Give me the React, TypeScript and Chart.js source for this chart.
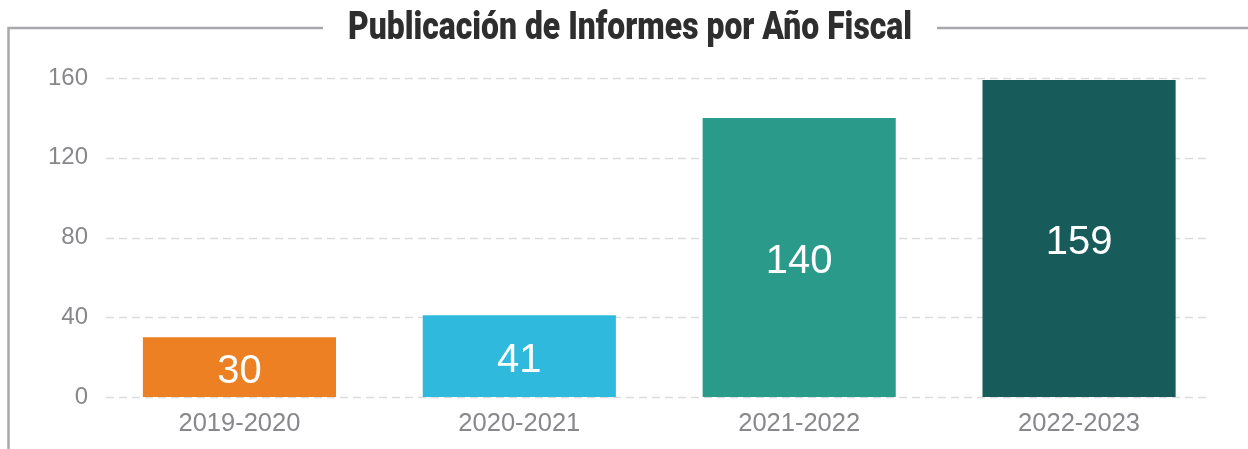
import React, { useEffect, useRef } from "react";
import { Chart, registerables } from "chart.js";

Chart.register(...registerables);

const TITLE = "Publicación de Informes por Año Fiscal";
const categories = ["2019-2020", "2020-2021", "2021-2022", "2022-2023"];
const reports = [30, 41, 140, 159];
const barColors = ["#EC8023", "#2FBADD", "#2A9A8A", "#175B5B"];
const yTicks = [0, 40, 80, 120, 160];

const W = 1248;
const H = 449;

const framePlugin = {
  id: "frameTitle",
  beforeDatasetsDraw(chart: any) {
    const { ctx, chartArea, scales } = chart;
    const y = scales.y;
    ctx.save();
    ctx.strokeStyle = "#dcdcdc";
    ctx.lineWidth = 1.5;
    ctx.setLineDash([8, 5]);
    for (const v of yTicks) {
      const py = Math.round(y.getPixelForValue(v)) + 0.5;
      ctx.beginPath();
      ctx.moveTo(chartArea.left + 6.5, py);
      ctx.lineTo(chartArea.right - 12.5, py);
      ctx.stroke();
    }
    ctx.restore();
  },
  afterDatasetsDraw(chart: any) {
    const { ctx } = chart;
    const meta = chart.getDatasetMeta(0);
    ctx.save();
    ctx.fillStyle = "#ffffff";
    ctx.font = "40px 'Liberation Sans', Arial, sans-serif";
    ctx.textAlign = "center";
    ctx.textBaseline = "middle";
    meta.data.forEach((bar: any, i: number) => {
      const cy = (bar.y + bar.base) / 2 + 4.5;
      ctx.fillText(String(reports[i]), bar.x, cy);
    });
    ctx.restore();
  },
  afterDraw(chart: any) {
    const { ctx } = chart;
    ctx.save();
    // title
    ctx.font = "900 38px Roboto, 'Liberation Sans', sans-serif";
    ctx.fillStyle = "#2e2e2e";
    ctx.textBaseline = "middle";
    ctx.textAlign = "center";
    const m = ctx.measureText(TITLE);
    const target = 564;
    const sx = target / m.width;
    ctx.translate(630, 29);
    ctx.scale(sx, 1);
    ctx.fillText(TITLE, 0, 0);
    ctx.restore();

    // frame
    ctx.save();
    ctx.strokeStyle = "#a9a9ad";
    ctx.lineWidth = 2.5;
    ctx.beginPath();
    ctx.moveTo(8.5, H);
    ctx.lineTo(8.5, 28);
    ctx.lineTo(323, 28);
    ctx.moveTo(937, 28);
    ctx.lineTo(W, 28);
    ctx.stroke();
    ctx.restore();
  },
};

export default function App() {
  const ref = useRef<HTMLCanvasElement | null>(null);

  useEffect(() => {
    if (!ref.current) return;
    const chart = new Chart(ref.current, {
      type: "bar",
      data: {
        labels: categories,
        datasets: [
          {
            data: reports,
            backgroundColor: barColors,
            borderWidth: 0,
            barPercentage: 0.69,
            categoryPercentage: 1,
          },
        ],
      },
      options: {
        responsive: false,
        animation: false,
        layout: { padding: { top: 78, right: 29, left: 0, bottom: 0 } },
        plugins: {
          legend: { display: false },
          title: { display: false },
          tooltip: { enabled: false },
        },
        scales: {
          x: {
            grid: { display: false, drawTicks: false },
            border: { display: false },
            ticks: {
              color: "#88888c",
              font: { family: "'Liberation Sans', Arial, sans-serif", size: 25.5 },
              padding: 12,
            },
            afterFit(scale: any) {
              scale.height = 52;
            },
          },
          y: {
            min: 0,
            max: 160,
            grid: { display: false, drawTicks: false },
            border: { display: false },
            afterBuildTicks(scale: any) {
              scale.ticks = yTicks.map((v) => ({ value: v }));
            },
            ticks: {
              color: "#88888c",
              font: { family: "'Liberation Sans', Arial, sans-serif", size: 24 },
              padding: 11.5,
            },
            afterFit(scale: any) {
              scale.width = 99.5;
            },
          },
        },
      },
      plugins: [framePlugin],
    });
    return () => chart.destroy();
  }, []);

  return (
    <div style={{ position: "absolute", left: 0, top: 0, width: W, height: H, background: "#fff" }}>
      <canvas ref={ref} width={W} height={H} style={{ width: W, height: H, display: "block" }} />
    </div>
  );
}
